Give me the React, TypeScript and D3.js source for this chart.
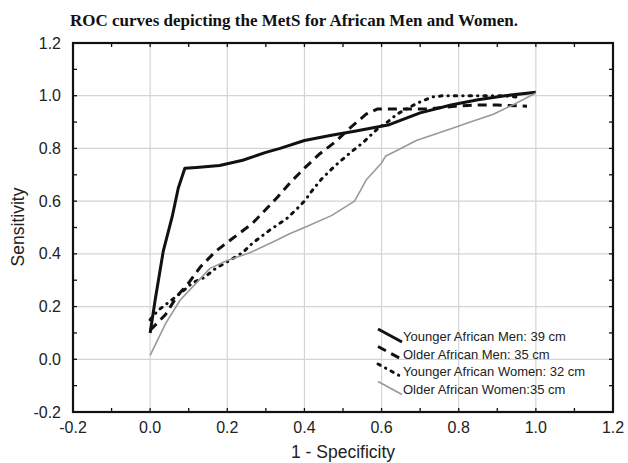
import React, { useEffect, useRef } from 'react';
import * as d3 from 'd3';

// series: [1 - specificity, sensitivity]
const youngerMen: [number, number][] = [
  [0, 0.10], [0.013, 0.225], [0.034, 0.41], [0.057, 0.54], [0.073, 0.65], [0.09, 0.725],
  [0.12, 0.728], [0.18, 0.735], [0.24, 0.755], [0.3, 0.785], [0.337, 0.80], [0.4, 0.83],
  [0.47, 0.85], [0.53, 0.865], [0.62, 0.89], [0.7, 0.935], [0.78, 0.965], [0.85, 0.985],
  [0.92, 1.0], [1.0, 1.013]
];
const olderMen: [number, number][] = [
  [0, 0.11], [0.04, 0.17], [0.07, 0.24], [0.10, 0.29], [0.13, 0.35], [0.17, 0.41],
  [0.215, 0.46], [0.265, 0.515], [0.33, 0.615], [0.363, 0.67], [0.40, 0.725], [0.44, 0.78],
  [0.48, 0.825], [0.52, 0.88], [0.56, 0.93], [0.59, 0.95], [0.65, 0.95], [0.72, 0.95],
  [0.79, 0.96], [0.85, 0.965], [0.9, 0.965], [0.977, 0.96]
];
const youngerWomen: [number, number][] = [
  [0, 0.15], [0.02, 0.185], [0.047, 0.215], [0.078, 0.25], [0.11, 0.29], [0.14, 0.31],
  [0.17, 0.345], [0.2, 0.37], [0.24, 0.405], [0.265, 0.44], [0.31, 0.49], [0.355, 0.535],
  [0.38, 0.57], [0.40, 0.60], [0.42, 0.64], [0.445, 0.685], [0.48, 0.735], [0.52, 0.785],
  [0.55, 0.82], [0.59, 0.875], [0.615, 0.90], [0.64, 0.93], [0.665, 0.95], [0.69, 0.97],
  [0.73, 0.995], [0.76, 1.0], [0.85, 1.0], [0.915, 1.0], [0.95, 0.995]
];
const olderWomen: [number, number][] = [
  [0, 0.015], [0.04, 0.135], [0.078, 0.225], [0.12, 0.29], [0.155, 0.345], [0.2, 0.375],
  [0.26, 0.405], [0.325, 0.45], [0.36, 0.475], [0.40, 0.50], [0.47, 0.545], [0.53, 0.60],
  [0.56, 0.68], [0.60, 0.745], [0.61, 0.77], [0.65, 0.80], [0.69, 0.83], [0.78, 0.875],
  [0.83, 0.90], [0.89, 0.93], [0.94, 0.965], [1.0, 1.01]
];

const seriesLabels = [
  'Younger African Men: 39 cm',
  'Older African Men: 35 cm',
  'Younger African Women: 32 cm',
  'Older African Women:35 cm'
];
const majorTicks = [-0.2, 0, 0.2, 0.4, 0.6, 0.8, 1.0, 1.2];
const minorTicks = d3.range(-0.2, 1.2001, 0.1);

const title = 'ROC curves depicting the MetS for African Men and Women.';
const xTitle = '1 - Specificity';
const yTitle = 'Sensitivity';

export default function App() {
  const ref = useRef<SVGSVGElement | null>(null);

  useEffect(() => {
    if (!ref.current) return;
    const svg = d3.select(ref.current);
    svg.selectAll('*').remove();

    const W = 628, H = 463;
    const left = 73, right = 613, top = 43, bottom = 412;
    const sans = '"Liberation Sans", Arial, sans-serif';

    const x = d3.scaleLinear().domain([-0.2, 1.2]).range([left, right]);
    const y = d3.scaleLinear().domain([-0.2, 1.2]).range([bottom, top]);

    svg.append('rect').attr('width', W).attr('height', H).attr('fill', '#fff');

    // grid
    const grid = svg.append('g').attr('stroke', '#d4d4d4').attr('stroke-width', 1.2);
    majorTicks.slice(1, -1).forEach(t => {
      grid.append('line').attr('x1', x(t)).attr('x2', x(t)).attr('y1', top).attr('y2', bottom);
      grid.append('line').attr('y1', y(t)).attr('y2', y(t)).attr('x1', left).attr('x2', right);
    });

    // inward ticks on every side
    const ticks = svg.append('g').attr('stroke', '#111').attr('stroke-width', 1.3);
    minorTicks.forEach(t => {
      ticks.append('line').attr('x1', x(t)).attr('x2', x(t)).attr('y1', bottom).attr('y2', bottom - 4);
      ticks.append('line').attr('x1', x(t)).attr('x2', x(t)).attr('y1', top).attr('y2', top + 4);
      ticks.append('line').attr('y1', y(t)).attr('y2', y(t)).attr('x1', left).attr('x2', left + 4);
      ticks.append('line').attr('y1', y(t)).attr('y2', y(t)).attr('x1', right).attr('x2', right - 4);
    });

    // tick labels
    majorTicks.forEach(t => {
      svg.append('text')
        .attr('x', x(t)).attr('y', bottom + 21)
        .attr('text-anchor', 'middle')
        .style('font-family', sans).style('font-size', '16px').style('fill', '#222')
        .text(t.toFixed(1));
      svg.append('text')
        .attr('x', left - 12).attr('y', y(t) + 5.5)
        .attr('text-anchor', 'end')
        .style('font-family', sans).style('font-size', '16px').style('fill', '#222')
        .text(t.toFixed(1));
    });

    const line = d3.line<[number, number]>().x(d => x(d[0])).y(d => y(d[1]));

    const styles = [
      { data: youngerMen, color: '#111', width: 3, dash: null, cap: 'butt' },
      { data: olderMen, color: '#111', width: 3, dash: '9,6', cap: 'butt' },
      { data: youngerWomen, color: '#111', width: 3, dash: '2.5,6,0.3,6', cap: 'round' },
      { data: olderWomen, color: '#999', width: 1.6, dash: null, cap: 'butt' }
    ];

    styles.forEach(s => {
      svg.append('path')
        .datum(s.data)
        .attr('fill', 'none')
        .attr('stroke', s.color)
        .attr('stroke-width', s.width)
        .attr('stroke-dasharray', s.dash)
        .attr('stroke-linecap', s.cap)
        .attr('stroke-linejoin', 'round')
        .attr('d', line);
    });

    // frame
    svg.append('rect')
      .attr('x', left).attr('y', top).attr('width', right - left).attr('height', bottom - top)
      .attr('fill', 'none').attr('stroke', '#111').attr('stroke-width', 2.2);

    // legend
    const legend = svg.append('g').attr('transform', 'translate(378,329)');
    styles.forEach((s, i) => {
      const g = legend.append('g').attr('transform', `translate(0, ${i * 17.5})`);
      g.append('line')
        .attr('x1', 0).attr('y1', 0).attr('x2', 24).attr('y2', 13)
        .attr('stroke', s.color).attr('stroke-width', s.width)
        .attr('stroke-dasharray', s.dash).attr('stroke-linecap', s.cap);
      g.append('text')
        .attr('x', 25).attr('y', 12)
        .style('font-family', sans).style('font-size', '13px').style('fill', '#222')
        .text(seriesLabels[i]);
    });

    // titles
    svg.append('text')
      .attr('x', 294).attr('y', 26)
      .attr('text-anchor', 'middle')
      .style('font-family', '"Liberation Serif", "Times New Roman", serif')
      .style('font-weight', 'bold').style('font-size', '17px').style('fill', '#111')
      .text(title);
    svg.append('text')
      .attr('x', 343).attr('y', 458)
      .attr('text-anchor', 'middle')
      .style('font-family', sans).style('font-size', '17.5px').style('fill', '#222')
      .text(xTitle);
    svg.append('text')
      .attr('transform', 'translate(24,227) rotate(-90)')
      .attr('text-anchor', 'middle')
      .style('font-family', sans).style('font-size', '17.5px').style('fill', '#222')
      .text(yTitle);
  }, []);

  return (
    <div style={{ position: 'absolute', left: 0, top: 0 }}>
      <svg ref={ref} width={628} height={463} style={{ display: 'block' }} />
    </div>
  );
}
